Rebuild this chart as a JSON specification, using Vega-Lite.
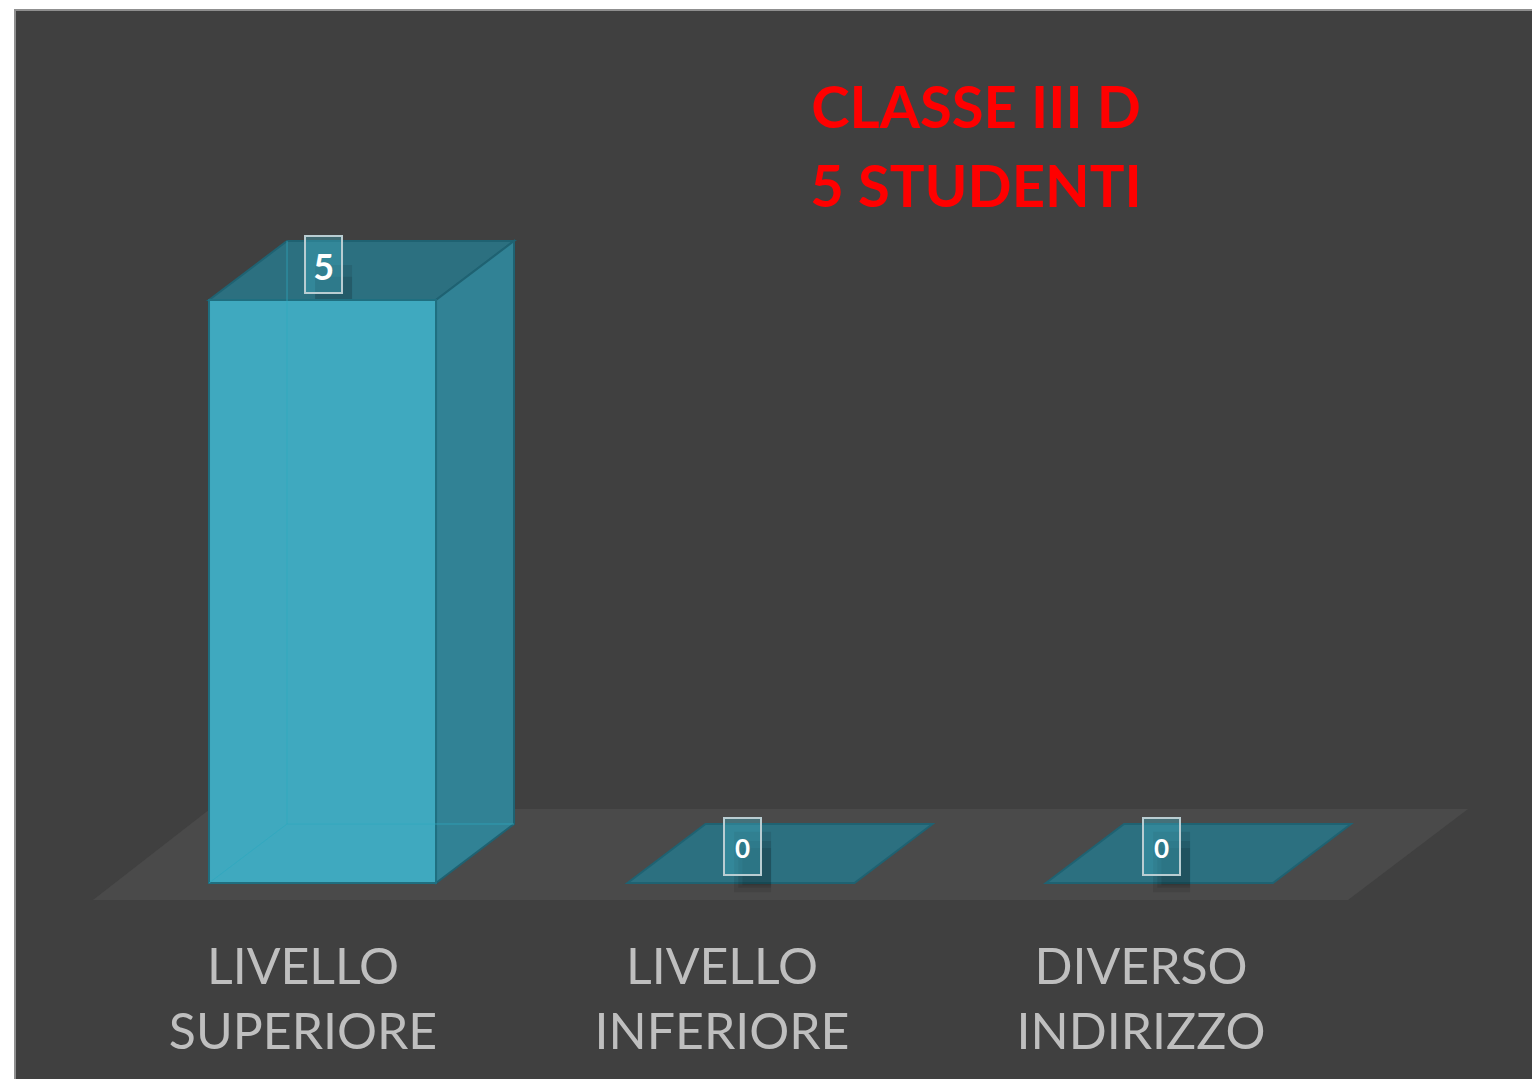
{
"$schema":"https://vega.github.io/schema/vega-lite/v6.json",
"width":1518,"height":1070,
"autosize":{"type":"none"},
"padding":{"left":15,"top":10,"right":0,"bottom":0},
"background":"#ffffff",
"view":{"fill":"#404040","stroke":"#8f8f8f","strokeWidth":2},
"datasets":{
"floor":[{"x":-0.2772,"y":-0.1458,"y2":-0.1458},{"x":0.0024,"y":-0.1458,"y2":0.6346},{"x":2.7216,"y":-0.1458,"y2":0.6346},{"x":3.0084,"y":0.6346,"y2":0.6346}],
"tops":[
{"category":"LIVELLO SUPERIORE","x":0,"y":5,"y2":5},{"category":"LIVELLO SUPERIORE","x":0.1864,"y":5,"y2":5.506},{"category":"LIVELLO SUPERIORE","x":0.5424,"y":5,"y2":5.506},{"category":"LIVELLO SUPERIORE","x":0.7288,"y":5.506,"y2":5.506},
{"category":"LIVELLO INFERIORE","x":1,"y":0,"y2":0},{"category":"LIVELLO INFERIORE","x":1.1864,"y":0,"y2":0.506},{"category":"LIVELLO INFERIORE","x":1.5424,"y":0,"y2":0.506},{"category":"LIVELLO INFERIORE","x":1.7288,"y":0.506,"y2":0.506},
{"category":"DIVERSO INDIRIZZO","x":2,"y":0,"y2":0},{"category":"DIVERSO INDIRIZZO","x":2.1864,"y":0,"y2":0.506},{"category":"DIVERSO INDIRIZZO","x":2.5424,"y":0,"y2":0.506},{"category":"DIVERSO INDIRIZZO","x":2.7288,"y":0.506,"y2":0.506}],
"sides":[{"category":"LIVELLO SUPERIORE","x":0.5424,"y":0,"y2":5},{"category":"LIVELLO SUPERIORE","x":0.7288,"y":0.506,"y2":5.506}],
"fronts":[{"category":"LIVELLO SUPERIORE","x":0,"x2":0.5424,"y":0,"y2":5}],
"edges":[
{"path":"a","order":1,"x":0,"y":0},{"path":"a","order":2,"x":0.1864,"y":0.506},{"path":"a","order":3,"x":0.7288,"y":0.506},
{"path":"b","order":1,"x":0.1864,"y":0.506},{"path":"b","order":2,"x":0.1864,"y":5.506}],
"shadow":[
{"k":1,"x":0.2534,"x2":0.3418,"y":5.0,"y2":4.91},{"k":2,"x":0.2534,"x2":0.3418,"y":5.3,"y2":4.95},{"k":3,"x":0.2534,"x2":0.3418,"y":5.2,"y2":4.98},
{"k":1,"x":1.2546,"x2":1.343,"y":0.44,"y2":-0.08},{"k":2,"x":1.2646,"x2":1.343,"y":0.36,"y2":-0.04},{"k":3,"x":1.2746,"x2":1.343,"y":0.3,"y2":-0.02},
{"k":1,"x":2.2558,"x2":2.3442,"y":0.44,"y2":-0.08},{"k":2,"x":2.2658,"x2":2.3442,"y":0.36,"y2":-0.04},{"k":3,"x":2.2758,"x2":2.3442,"y":0.3,"y2":-0.02}],
"boxes":[{"x":0.2294,"x2":0.3178,"y":5.549,"y2":5.06},{"x":1.2306,"x2":1.319,"y":0.5575,"y2":0.0686},{"x":2.2318,"x2":2.3202,"y":0.5575,"y2":0.0686}],
"big":[{"x":0.2742,"y":5.27,"value":5}],
"small":[{"x":1.2748,"y":0.28,"value":0},{"x":2.276,"y":0.28,"value":0}],
"labels":[{"x":0.2246,"y":-0.8662,"label":"LIVELLO\nSUPERIORE"},{"x":1.2258,"y":-0.8662,"label":"LIVELLO\nINFERIORE"},{"x":2.227,"y":-0.8662,"label":"DIVERSO\nINDIRIZZO"}],
"title":[{"x":1.8327,"y":6.475,"label":"CLASSE III D\n5 STUDENTI"}]
},
"encoding":{
"x":{"field":"x","type":"quantitative","axis":null,"scale":{"domain":[-0.4636,3.1637],"nice":false,"zero":false}},
"y":{"field":"y","type":"quantitative","axis":null,"scale":{"domain":[-1.6895,7.487],"nice":false,"zero":false}}
},
"layer":[
{"data":{"name":"floor"},"mark":{"type":"area","color":"#4a4a4a"},"encoding":{"y2":{"field":"y2"}}},
{"data":{"name":"tops"},"mark":{"type":"area","color":"#2c7080","stroke":"#1f6272","strokeWidth":2},"encoding":{"y2":{"field":"y2"},"detail":{"field":"category"}}},
{"data":{"name":"sides"},"mark":{"type":"area","color":"#318295","stroke":"#1f6272","strokeWidth":2},"encoding":{"y2":{"field":"y2"},"detail":{"field":"category"}}},
{"data":{"name":"shadow"},"mark":{"type":"rect","color":"#000000","opacity":0.09},"encoding":{"x2":{"field":"x2"},"y2":{"field":"y2"}}},
{"data":{"name":"fronts"},"mark":{"type":"rect","color":"#3fa9bf","stroke":"#1f6f80","strokeWidth":2},"encoding":{"x2":{"field":"x2"},"y2":{"field":"y2"}}},
{"data":{"name":"edges"},"mark":{"type":"line","color":"#2ea8bf","strokeWidth":1,"opacity":0.7},"encoding":{"detail":{"field":"path"},"order":{"field":"order"}}},
{"data":{"name":"boxes"},"mark":{"type":"rect","fill":"#3fa9bf","fillOpacity":0.4,"stroke":"#b9cdd2","strokeWidth":2},"encoding":{"x2":{"field":"x2"},"y2":{"field":"y2"}}},
{"data":{"name":"big"},"mark":{"type":"text","font":"Lato","fontWeight":"bold","fontSize":36,"color":"#ffffff","align":"center","baseline":"middle"},"encoding":{"text":{"field":"value"}}},
{"data":{"name":"small"},"mark":{"type":"text","font":"Lato","fontWeight":"bold","fontSize":26,"color":"#ffffff","align":"center","baseline":"middle"},"encoding":{"text":{"field":"value"}}},
{"data":{"name":"labels"},"mark":{"type":"text","font":"Lato","fontSize":50,"color":"#bfbfbf","align":"center","baseline":"alphabetic","lineBreak":"\n","lineHeight":65},"encoding":{"text":{"field":"label"}}},
{"data":{"name":"title"},"mark":{"type":"text","font":"Lato","fontWeight":"bold","fontSize":58,"color":"#ff0000","align":"center","baseline":"alphabetic","lineBreak":"\n","lineHeight":79},"encoding":{"text":{"field":"label"}}}
]
}
